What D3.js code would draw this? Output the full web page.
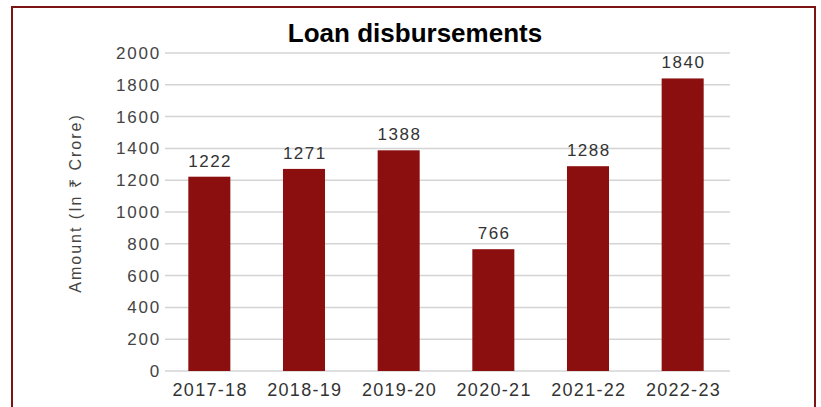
<!DOCTYPE html>
<html>
<head>
<meta charset="utf-8">
<script src="https://cdn.jsdelivr.net/npm/d3@7"></script>
<style>
  body { margin: 0; background: #fff; }
  svg { font-family: "Liberation Sans", Arial, sans-serif; }
</style>
</head>
<body>
<svg id="chart" width="821" height="407"></svg>
<script>
const years = ["2017-18", "2018-19", "2019-20", "2020-21", "2021-22", "2022-23"];
const amounts = [1222, 1271, 1388, 766, 1288, 1840];
const yTicks = [0, 200, 400, 600, 800, 1000, 1200, 1400, 1600, 1800, 2000];

const svg = d3.select("#chart");

// frame
svg.append("rect")
  .attr("x", 12).attr("y", 7)
  .attr("width", 803).attr("height", 420)
  .attr("fill", "none")
  .attr("stroke", "#7d1414")
  .attr("stroke-width", 2);

const x = d3.scaleBand()
  .domain(years)
  .range([162, 730])
  .paddingInner(0.556)
  .paddingOuter(0.278);

const y = d3.scaleLinear()
  .domain([0, 2000])
  .range([371, 53]);

// grid
svg.append("g")
  .selectAll("line")
  .data(yTicks)
  .enter()
  .append("line")
  .attr("x1", 165).attr("x2", 730)
  .attr("y1", (d) => y(d)).attr("y2", (d) => y(d))
  .attr("stroke", "#d4d4d4")
  .attr("stroke-width", 1.5);

// y labels
svg.append("g")
  .selectAll("text")
  .data(yTicks)
  .enter()
  .append("text")
  .attr("x", 161)
  .attr("y", (d) => y(d))
  .attr("dy", "0.35em")
  .attr("text-anchor", "end")
  .attr("font-size", 17)
  .attr("letter-spacing", 1.8)
  .attr("fill", "#444")
  .text((d) => d);

// bars
svg.append("g")
  .selectAll("rect")
  .data(amounts)
  .enter()
  .append("rect")
  .attr("x", (d, i) => x(years[i]))
  .attr("y", (d) => y(d))
  .attr("width", x.bandwidth())
  .attr("height", (d) => y(0) - y(d))
  .attr("fill", "#8c0f0f");

// value labels
svg.append("g")
  .selectAll("text")
  .data(amounts)
  .enter()
  .append("text")
  .attr("x", (d, i) => x(years[i]) + x.bandwidth() / 2 + 0.8)
  .attr("y", (d) => y(d) - 10)
  .attr("text-anchor", "middle")
  .attr("font-size", 17)
  .attr("letter-spacing", 1.5)
  .attr("fill", "#333")
  .text((d) => d);

// x labels
svg.append("g")
  .selectAll("text")
  .data(years)
  .enter()
  .append("text")
  .attr("x", (d) => x(d) + x.bandwidth() / 2 + 0.8)
  .attr("y", 396)
  .attr("text-anchor", "middle")
  .attr("font-size", 18)
  .attr("letter-spacing", 1.3)
  .attr("fill", "#333")
  .text((d) => d);

// axis title
svg.append("text")
  .attr("transform", "translate(81,203) rotate(-90)")
  .attr("text-anchor", "middle")
  .attr("font-size", 16)
  .attr("letter-spacing", 2)
  .attr("fill", "#444")
  .text("Amount (In ₹ Crore)");

// title
svg.append("text")
  .attr("x", 415)
  .attr("y", 42)
  .attr("text-anchor", "middle")
  .attr("font-size", 26)
  .attr("font-weight", "bold")
  .attr("fill", "#000")
  .text("Loan disbursements");
</script>
</body>
</html>
